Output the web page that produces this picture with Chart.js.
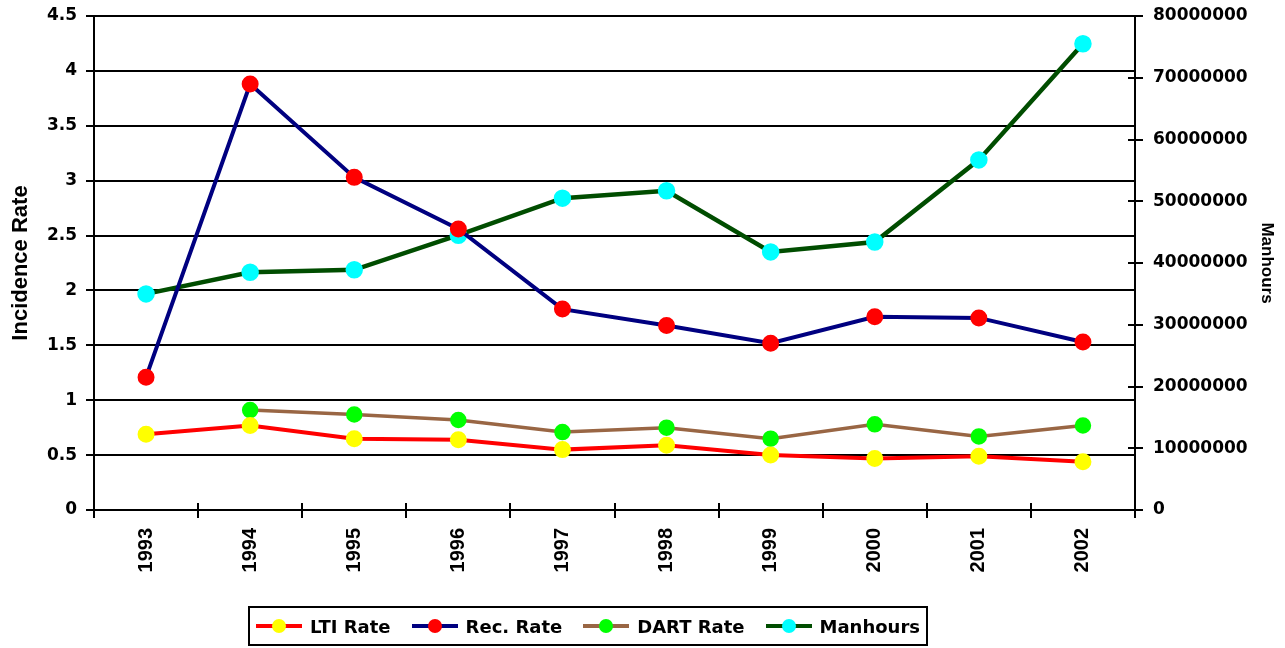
<!DOCTYPE html>
<html lang="en">
<head>
  <meta charset="UTF-8">
  <title>Incidence Rate and Manhours</title>
  <script src="https://cdn.jsdelivr.net/npm/chart.js"></script>
  <style>
    body { margin: 0; background: #fff; }
    #wrap { position: relative; width: 1285px; height: 648px; }
    #legend {
      position: absolute; left: 248px; top: 606px; width: 664px; height: 36px;
      padding: 0 6px 0 6px;
      border: 2px solid #000; display: flex; align-items: center; justify-content: space-between;
      font: bold 18px "DejaVu Sans", sans-serif; box-sizing: content-box;
    }
    .item { display: flex; align-items: center; }
    .mk { position: relative; width: 46px; height: 4px; margin-right: 8px; }
    .mk span { position: absolute; left: 16px; top: -5px; width: 14px; height: 14px; border-radius: 50%; }
  </style>
</head>
<body>
  <div id="wrap">
    <canvas id="chart" width="1285" height="648"></canvas>
    <div id="legend"></div>
  </div>
  <script>
    const years = ['1993', '1994', '1995', '1996', '1997', '1998', '1999', '2000', '2001', '2002'];
    const ltiRate = [0.69, 0.77, 0.65, 0.64, 0.55, 0.59, 0.50, 0.47, 0.49, 0.44];
    const recRate = [1.21, 3.88, 3.03, 2.56, 1.83, 1.68, 1.52, 1.76, 1.75, 1.53];
    const dartRate = [null, 0.91, 0.87, 0.82, 0.71, 0.75, 0.65, 0.78, 0.67, 0.77];
    const manhours = [35000000, 38500000, 38900000, 44500000, 50500000, 51700000, 41800000, 43400000, 56700000, 75500000];

    const tickFont = { family: '"DejaVu Sans", sans-serif', weight: 'bold', size: 17 };
    const xFont = { family: '"Liberation Sans", Arial, sans-serif', weight: 'bold', size: 20 };

    function series(label, data, line, dot, axis, width) {
      return {
        label: label, data: data, yAxisID: axis,
        borderColor: line, backgroundColor: dot,
        pointBackgroundColor: dot, pointBorderColor: dot,
        pointRadius: 6.5, pointHoverRadius: 6.5, borderWidth: width,
        tension: 0, fill: false, spanGaps: false
      };
    }

    const datasets = [
      series('LTI Rate', ltiRate, '#ff0000', '#ffff00', 'y', 4),
      series('Rec. Rate', recRate, '#000080', '#ff0000', 'y', 4),
      series('DART Rate', dartRate, '#996644', '#00ff00', 'y', 3.5),
      series('Manhours', manhours, '#004d00', '#00ffff', 'y1', 4.5)
    ];

    // the x and right axes have tick marks that cross the axis line
    const innerTicks = {
      id: 'innerTicks',
      beforeDatasetsDraw(chart) {
        const c = chart.ctx;
        const x = chart.scales.x, r = chart.scales.y1;
        const step = x.getPixelForTick(1) - x.getPixelForTick(0);
        c.save();
        c.strokeStyle = '#000';
        c.lineWidth = 2;
        c.beginPath();
        for (let i = 0; i <= years.length; i++) {
          const px = Math.round(x.getPixelForTick(0) - step / 2 + i * step);
          c.moveTo(px, x.top);
          c.lineTo(px, x.top - 7);
        }
        r.ticks.forEach(t => {
          const py = Math.round(r.getPixelForValue(t.value));
          c.moveTo(r.left, py);
          c.lineTo(r.left - 7, py);
        });
        c.stroke();
        c.restore();
      }
    };

    // keep the plot box where the original has it
    const fixY = w => s => { s.width = w; s.paddingTop = 0; s.paddingBottom = 0; };

    const ctx = document.getElementById('chart').getContext('2d');
    const chart = new Chart(ctx, {
      type: 'line',
      data: { labels: years, datasets: datasets },
      plugins: [innerTicks],
      options: {
        responsive: false,
        animation: false,
        layout: { padding: { top: 16, bottom: 48, left: 0, right: 0 } },
        plugins: { legend: { display: false }, tooltip: { enabled: false } },
        scales: {
          x: {
            offset: true,
            grid: { offset: true, drawOnChartArea: false, drawTicks: true, tickLength: 8, color: '#000', lineWidth: 2 },
            border: { color: '#000', width: 2 },
            ticks: { color: '#000', font: xFont, minRotation: 90, maxRotation: 90, padding: 10 },
            afterFit: s => { s.height = 90; s.paddingLeft = 0; s.paddingRight = 0; }
          },
          y: {
            position: 'left',
            min: 0, max: 4.5,
            grid: { color: '#000', lineWidth: 2, tickLength: 8 },
            border: { color: '#000', width: 2 },
            ticks: { stepSize: 0.5, color: '#000', font: tickFont, padding: 9, callback: v => String(+v.toFixed(1)) },
            title: { display: true, text: 'Incidence Rate', color: '#000', font: { family: xFont.family, weight: 'bold', size: 22 }, padding: 8 },
            afterFit: fixY(94)
          },
          y1: {
            position: 'right',
            min: 0, max: 80000000,
            grid: { drawOnChartArea: false, color: '#000', lineWidth: 2, tickLength: 8 },
            border: { color: '#000', width: 2 },
            ticks: { stepSize: 10000000, color: '#000', font: tickFont, padding: 10, callback: v => String(v) },
            title: { display: true, text: 'Manhours', color: '#000', font: { family: xFont.family, weight: 'bold', size: 17 }, padding: 8 },
            afterFit: fixY(150)
          }
        }
      }
    });

    // legend: line with a dot through it, as in the spreadsheet original
    const legend = document.getElementById('legend');
    datasets.forEach(d => {
      const item = document.createElement('div');
      item.className = 'item';
      item.innerHTML = '<div class="mk" style="background:' + d.borderColor + '"><span style="background:' +
        d.pointBackgroundColor + '"></span></div>' + d.label;
      legend.appendChild(item);
    });
  </script>
</body>
</html>
